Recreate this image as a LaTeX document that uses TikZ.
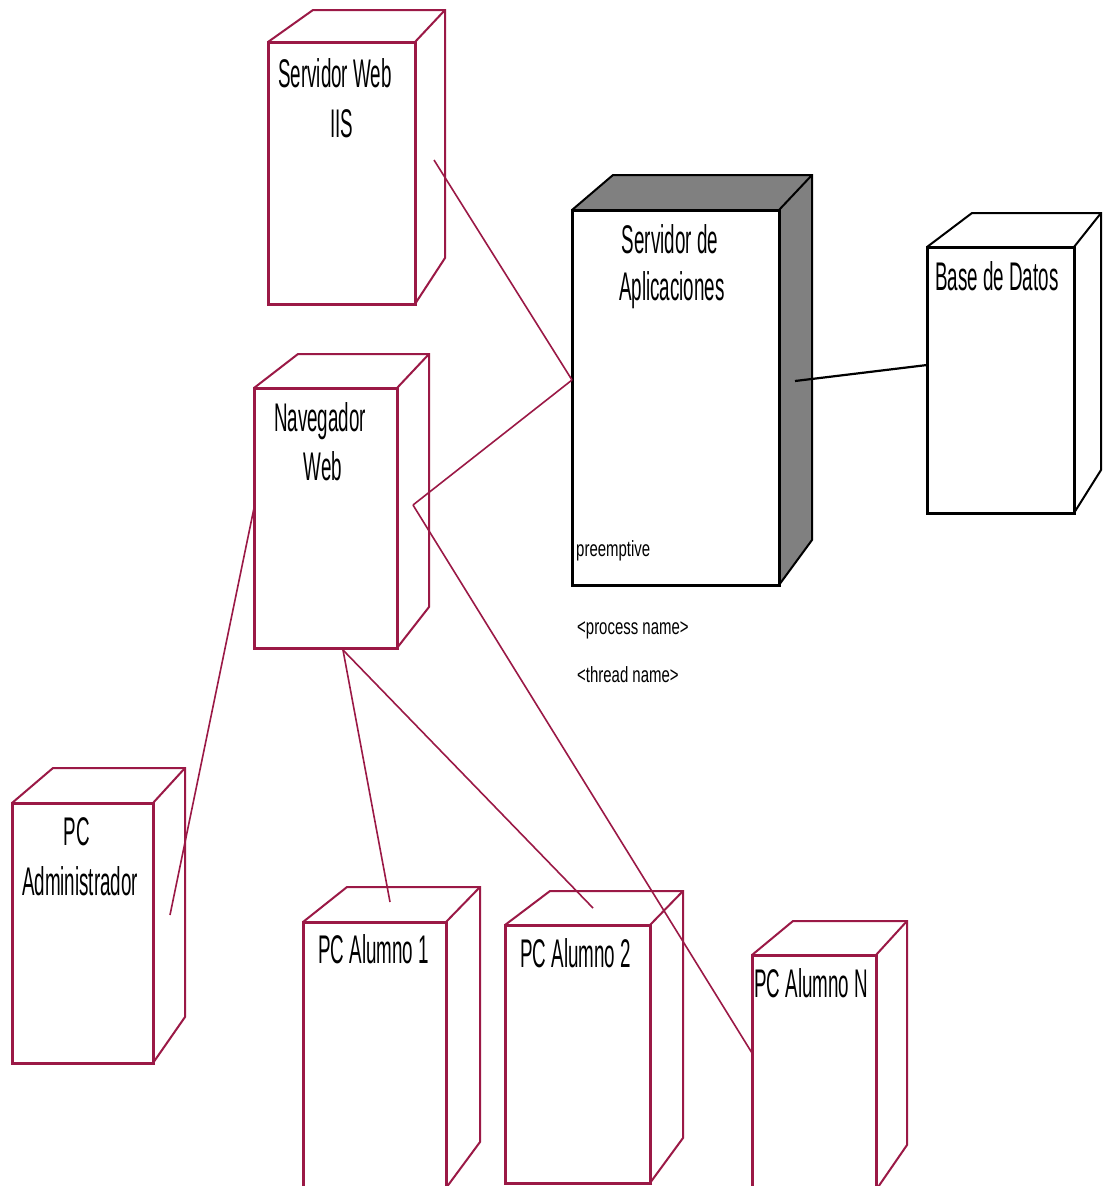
\documentclass[tikz,border=0pt]{standalone}
\usepackage{fontspec}
\newfontfamily\bigf[FakeStretch=0.47]{Liberation Sans}
\newfontfamily\smallf[FakeStretch=0.68]{Liberation Sans}
\definecolor{crim}{RGB}{155,25,70}
\definecolor{boxgray}{RGB}{128,128,128}
\tikzset{
  backline/.style={line width=2pt, line join=miter},
  frontface/.style={line width=3pt, fill=white, inner sep=0pt, outer sep=0pt, rectangle},
  bigtxt/.style={font=\bigf\fontsize{40}{40}\selectfont, inner sep=0pt},
  smalltxt/.style={font=\smallf\fontsize{22}{22}\selectfont, inner sep=0pt},
  conn/.style={crim, line width=1.6pt},
  conndark/.style={black, line width=2.2pt}
}
% #1 name, #2 x0, #3 y0, #4 x1, #5 y1, #6 back-left x, #7 back top y, #8 back right x, #9 back bottom y
\newcommand{\cubebox}[9]{%
  \fill[fill=\cubefill] (#2,#3) -- (#6,#7) -- (#8,#7) -- (#8,#9) -- (#4,#5) -- (#4,#3) -- cycle;
  \draw[backline, draw=\cubedraw] (#2,#3) -- (#6,#7) -- (#8,#7) -- (#8,#9) -- (#4,#5);
  \draw[backline, draw=\cubedraw] (#4,#3) -- (#8,#7);
  \node[frontface, draw=\cubedraw, minimum width={(#4-#2)*1pt}, minimum height={(#5-#3)*1pt}, anchor=north west] (#1) at (#2,#3) {};
}
\begin{document}
\begin{tikzpicture}[x=1pt,y=-1pt]
\useasboundingbox (0,0) rectangle (1103,1186);
\clip (0,0) rectangle (1103,1186);
\fill[white] (0,0) rectangle (1103,1186);

% boxes
\def\cubedraw{crim}\def\cubefill{white}
\cubebox{iis}{268}{42}{415}{304}{313}{10}{445}{258}
\cubebox{nav}{254}{388}{397}{648}{298}{354}{429}{607}
\cubebox{adm}{12}{803}{153}{1063}{53}{768}{185}{1017}
\cubebox{al1}{303}{922}{446}{1188}{347}{887}{480}{1142}
\cubebox{al2}{505}{925}{650}{1183}{550}{891}{683}{1138}
\cubebox{alN}{752}{955}{876}{1190}{793}{921}{907}{1145}
\def\cubedraw{black}\def\cubefill{boxgray}
\cubebox{app}{572}{210}{779}{585}{613}{175}{812}{540}
\def\cubedraw{black}\def\cubefill{white}
\cubebox{db}{927}{247}{1074}{513}{972}{213}{1101}{470}

% texts
\node[bigtxt, anchor=base] (tiis1) at (335,87) {Servidor Web};
\node[bigtxt, anchor=base] (tiis2) at (342,137) {IIS};
\node[bigtxt, anchor=base] (tapp1) at (670,253) {Servidor de};
\node[bigtxt, anchor=base] (tapp2) at (672,300) {Aplicaciones};
\node[smalltxt, anchor=base west] (tpre) at (576,556) {preemptive};
\node[smalltxt, anchor=base west] (tproc) at (577,634) {<process name>};
\node[smalltxt, anchor=base west] (tthr) at (577,682) {<thread name>};
\node[bigtxt, anchor=base west] (tdb) at (935,290) {Base de Datos};
\node[bigtxt, anchor=base] (tnav1) at (320,431) {Navegador};
\node[bigtxt, anchor=base] (tnav2) at (323,480) {Web};
\node[bigtxt, anchor=base] (tadm1) at (77,845) {PC};
\node[bigtxt, anchor=base] (tadm2) at (80,895) {Administrador};
\node[bigtxt, anchor=base west] (tal1) at (318,963) {PC Alumno 1};
\node[bigtxt, anchor=base west] (tal2) at (520,967) {PC Alumno 2};
\node[bigtxt, anchor=base west] (talN) at (754,997) {PC Alumno N};

% connector ends
\coordinate (iisP) at (434,160);
\coordinate (appL) at (572,380);
\coordinate (appR) at (795,381);
\coordinate (dbL) at (927,365);
\coordinate (navR) at (413,505);
\coordinate (navL) at (254,508);
\coordinate (navB) at (343,650);
\coordinate (admR) at (170,915);
\coordinate (al1T) at (390,902);
\coordinate (al2T) at (593,908);
\coordinate (alNL) at (752,1053);

% connectors
\draw[conn] (iisP) -- (appL);
\draw[conn] (appL) -- (navR);
\draw[conn] (navR) -- (alNL);
\draw[conn] (navL) -- (admR);
\draw[conn] (navB) -- (al1T);
\draw[conn] (navB) -- (al2T);
\draw[conndark] (appR) -- (dbL);
\end{tikzpicture}
\end{document}
